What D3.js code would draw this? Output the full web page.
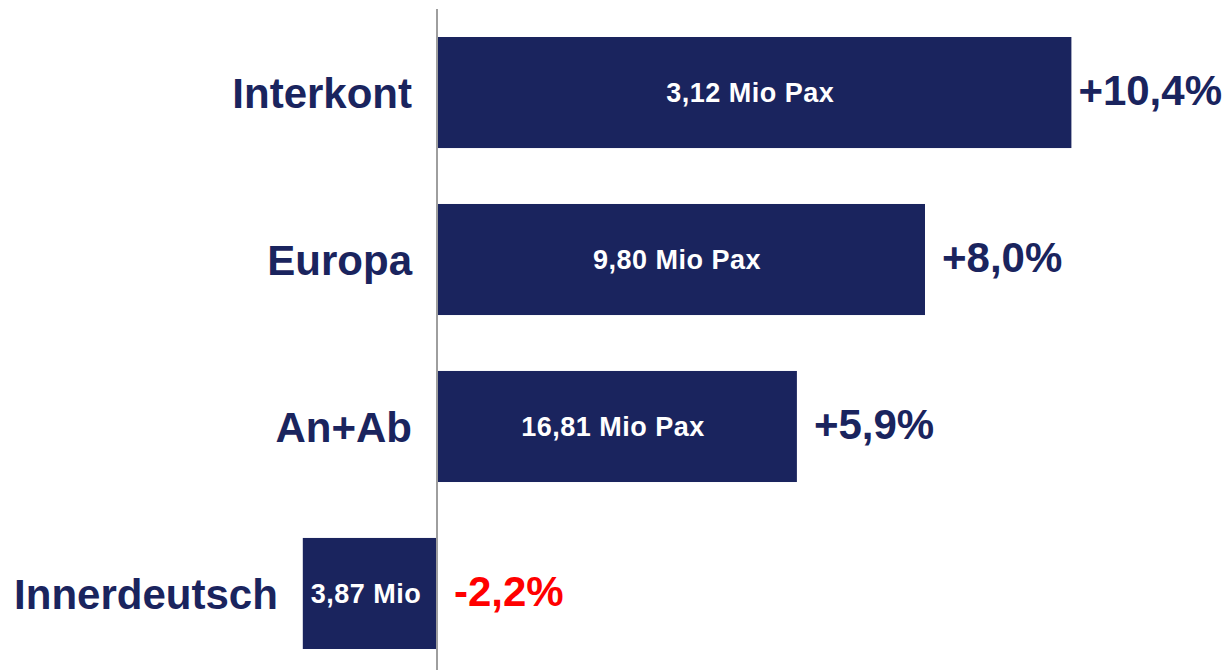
<!DOCTYPE html>
<html>
<head>
<meta charset="utf-8">
<script src="https://cdn.jsdelivr.net/npm/d3@7"></script>
<style>
  body { margin: 0; background: #fff; }
  svg text { font-family: "Liberation Sans", Arial, sans-serif; font-weight: bold; }
</style>
</head>
<body>
<div id="chart"></div>
<script>
// data
var categories = ["Interkont", "Europa", "An+Ab", "Innerdeutsch"];
var growth = [10.4, 8.0, 5.9, -2.2];
var paxLabels = ["3,12 Mio Pax", "9,80 Mio Pax", "16,81 Mio Pax", "3,87 Mio"];

var width = 1225, height = 670;
var navy = "#1a245e";

var de = d3.formatLocale({decimal: ",", thousands: ".", grouping: [3], currency: ["", " €"], minus: "-"});
var fmt = de.format("+.1f");

var data = categories.map(function(c, i) {
  return {cat: c, value: growth[i], pax: paxLabels[i]};
});

var svg = d3.select("#chart").append("svg")
  .attr("width", width)
  .attr("height", height);

var x = d3.scaleLinear().domain([-5, 10]).range([132, 1047]);
var y = d3.scaleBand().domain(categories).range([37, 649]).paddingInner(0.335);

// bars
svg.selectAll("rect.bar")
  .data(data)
  .enter().append("rect")
  .attr("class", "bar")
  .attr("x", function(d) { return x(Math.min(0, d.value)); })
  .attr("y", function(d) { return y(d.cat); })
  .attr("width", function(d) { return Math.abs(x(d.value) - x(0)); })
  .attr("height", y.bandwidth())
  .style("fill", navy);

// zero line
svg.append("line")
  .attr("x1", x(0)).attr("x2", x(0))
  .attr("y1", 9).attr("y2", height)
  .style("stroke", "#9e9e9e")
  .style("stroke-width", 2);

// category names, left of the bar
svg.selectAll("text.cat")
  .data(data)
  .enter().append("text")
  .attr("class", "cat")
  .attr("x", function(d) { return Math.min(x(0), x(d.value)) - 25; })
  .attr("y", function(d) { return y(d.cat) + y.bandwidth() / 2; })
  .attr("dy", "0.36em")
  .attr("text-anchor", "end")
  .style("font-size", "42px")
  .style("fill", navy)
  .text(function(d) { return d.cat; });

// pax labels inside bars
svg.selectAll("text.pax")
  .data(data)
  .enter().append("text")
  .attr("class", "pax")
  .attr("x", function(d) { return (x(0) + x(d.value)) / 2 - 4; })
  .attr("y", function(d) { return y(d.cat) + y.bandwidth() / 2; })
  .attr("dy", "0.35em")
  .attr("text-anchor", "middle")
  .style("font-size", "27px")
  .style("letter-spacing", "0.5px")
  .style("fill", "#fff")
  .text(function(d) { return d.pax; });

// growth labels
var pct = svg.selectAll("text.pct")
  .data(data)
  .enter().append("text")
  .attr("class", "pct")
  .attr("x", function(d) { return Math.max(x(0), x(d.value)) + 17; })
  .attr("y", function(d) { return y(d.cat) + y.bandwidth() / 2; })
  .attr("dy", "0.3em")
  .style("font-size", "42px")
  .style("fill", function(d) { return d.value < 0 ? "#ff0000" : navy; })
  .text(function(d) { return fmt(d.value) + "%"; });

// keep the widest label inside the page
pct.each(function() {
  var bb = this.getBBox();
  if (bb.x + bb.width > width - 3) {
    d3.select(this).attr("x", width - 3 - bb.width);
  }
});
</script>
</body>
</html>
